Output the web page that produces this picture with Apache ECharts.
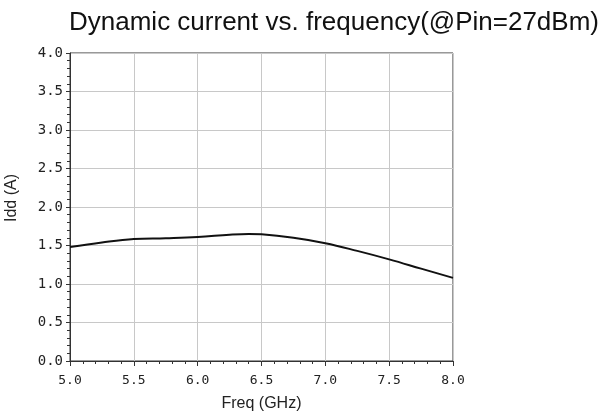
<!DOCTYPE html>
<html>
<head>
<meta charset="utf-8">
<script src="https://cdn.jsdelivr.net/npm/echarts@6/dist/echarts.min.js"></script>
<style>
html,body{margin:0;padding:0;background:#fff;}
#c{width:603px;height:414px;}
</style>
</head>
<body>
<div id="c"></div>
<script>
var freq = [5.0, 5.25, 5.5, 5.75, 6.0, 6.25, 6.4, 6.5, 6.75, 7.0, 7.25, 7.5, 7.75, 8.0];
var idd  = [1.48, 1.54, 1.585, 1.595, 1.61, 1.64, 1.65, 1.645, 1.60, 1.53, 1.43, 1.32, 1.20, 1.08];
var titleText = 'Dynamic current vs. frequency(@Pin=27dBm)';
var xName = 'Freq (GHz)';
var yName = 'Idd (A)';

var chart = echarts.init(document.getElementById('c'));
chart.setOption({
  backgroundColor: '#fff',
  animation: false,
  title: {
    text: titleText,
    left: 64, top: 5,
    textStyle: {fontFamily: 'Liberation Sans', fontSize: 26, fontWeight: 'normal', color: '#111'}
  },
  grid: {left: 70, right: 150, top: 53, bottom: 53, outerBoundsMode: 'none', containLabel: false,
    show: true, borderColor: '#333', borderWidth: 1, backgroundColor: 'transparent'},
  xAxis: {
    type: 'value', min: 5, max: 8, interval: 0.5,
    name: xName, nameLocation: 'middle', nameGap: 35,
    nameTextStyle: {fontFamily: 'Liberation Sans', fontSize: 16, color: '#222'},
    axisLine: {show: true, lineStyle: {color: '#333', width: 1}},
    axisTick: {show: true, length: 5, lineStyle: {color: '#333'}},
    minorTick: {show: true, splitNumber: 5, length: 3, lineStyle: {color: '#333'}},
    axisLabel: {margin: 13, fontFamily: 'DejaVu Sans Mono', fontSize: 13, color: '#222',
      formatter: function(v){ return v.toFixed(1); }},
    splitLine: {show: true, lineStyle: {color: '#c8c8c8', width: 1}}
  },
  yAxis: {
    type: 'value', min: 0, max: 4, interval: 0.5,
    name: yName, nameLocation: 'middle', nameGap: 50, nameRotate: 90,
    nameTextStyle: {fontFamily: 'Liberation Sans', fontSize: 16, color: '#222', padding: [0, 0, 0, 18]},
    axisLine: {show: true, lineStyle: {color: '#333', width: 1}},
    axisTick: {show: true, length: 4, lineStyle: {color: '#333'}},
    minorTick: {show: true, splitNumber: 5, length: 3, lineStyle: {color: '#333'}},
    axisLabel: {margin: 7, fontFamily: 'DejaVu Sans Mono', fontSize: 14, color: '#222',
      formatter: function(v){ return v.toFixed(1); }},
    splitLine: {show: true, lineStyle: {color: '#c8c8c8', width: 1}}
  },
  series: [{
    type: 'line',
    data: freq.map(function(f, i){ return [f, idd[i]]; }),
    smooth: 0.4,
    showSymbol: false,
    lineStyle: {color: '#111', width: 2}
  }]
});
</script>
</body>
</html>
